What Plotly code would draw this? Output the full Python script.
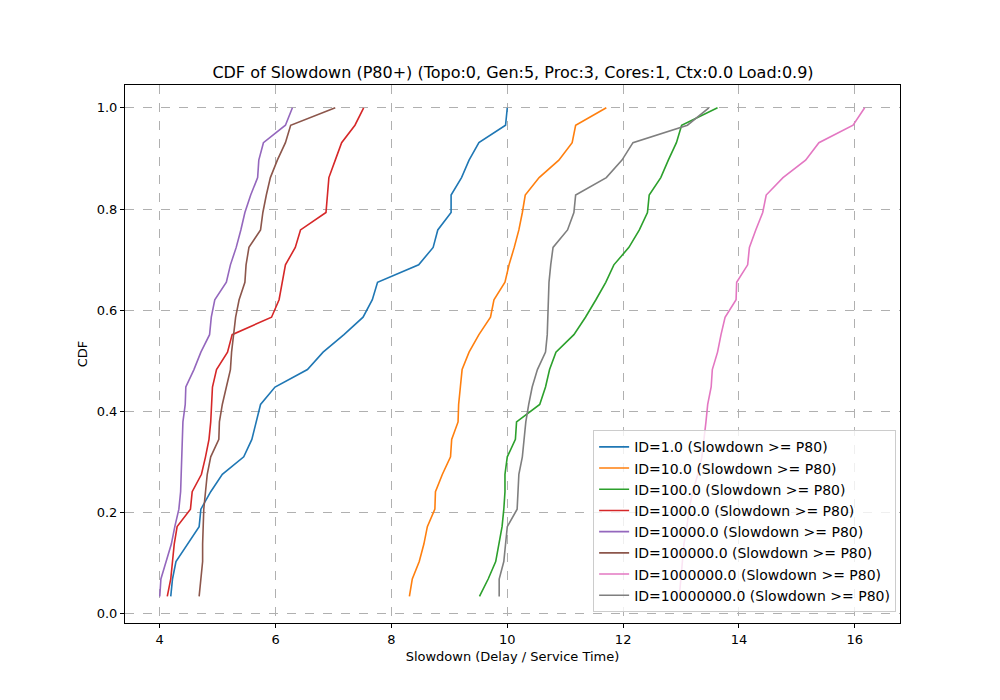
import plotly.graph_objects as go

# CDF levels: 29 samples per series
n = 29
cdf = [k / n for k in range(1, n + 1)]

ids = ['1.0', '10.0', '100.0', '1000.0', '10000.0', '100000.0', '1000000.0', '10000000.0']
colors = ['#1f77b4', '#ff7f0e', '#2ca02c', '#d62728', '#9467bd', '#8c564b', '#e377c2', '#7f7f7f']

s_1 = [4.19, 4.22, 4.28, 4.48, 4.68, 4.71, 4.88, 5.08, 5.45, 5.59, 5.66, 5.74, 5.99, 6.55, 6.82,
       7.18, 7.51, 7.67, 7.76, 8.47, 8.72, 8.80, 9.03, 9.03, 9.21, 9.34, 9.51, 9.97, 10.0]
s_10 = [8.31, 8.36, 8.48, 8.56, 8.62, 8.75, 8.76, 8.88, 9.02, 9.04, 9.15, 9.16, 9.19, 9.22, 9.34,
        9.51, 9.71, 9.77, 9.96, 10.03, 10.12, 10.20, 10.26, 10.31, 10.55, 10.89, 11.12, 11.18, 11.71]
s_100 = [9.52, 9.67, 9.80, 9.86, 9.91, 9.94, 9.96, 9.96, 10.0, 10.14, 10.16, 10.56, 10.66, 10.73, 10.84,
         11.15, 11.35, 11.53, 11.70, 11.84, 12.10, 12.28, 12.42, 12.45, 12.65, 12.78, 12.92, 13.01, 13.63]
s_1000 = [4.13, 4.19, 4.22, 4.25, 4.30, 4.53, 4.56, 4.72, 4.79, 4.85, 4.88, 4.90, 4.91, 4.98, 5.17,
          5.25, 5.93, 6.06, 6.11, 6.17, 6.34, 6.43, 6.87, 6.90, 6.92, 7.03, 7.14, 7.37, 7.52]
s_10000 = [4.0, 4.02, 4.11, 4.20, 4.26, 4.33, 4.36, 4.37, 4.38, 4.39, 4.40, 4.44, 4.45, 4.59, 4.71,
           4.86, 4.89, 4.95, 5.15, 5.22, 5.32, 5.40, 5.47, 5.57, 5.69, 5.71, 5.79, 6.17, 6.29]
s_100000 = [4.68, 4.71, 4.74, 4.74, 4.75, 4.76, 4.79, 4.82, 4.88, 5.02, 5.03, 5.08, 5.15, 5.22, 5.24,
            5.27, 5.31, 5.37, 5.47, 5.49, 5.54, 5.74, 5.78, 5.84, 5.91, 6.03, 6.17, 6.26, 7.03]
s_1000000 = [12.97, 13.00, 13.03, 13.05, 13.10, 13.14, 13.20, 13.29, 13.36, 13.40, 13.43, 13.46, 13.52, 13.54, 13.63,
             13.69, 13.76, 13.95, 13.96, 14.15, 14.18, 14.29, 14.41, 14.47, 14.76, 15.15, 15.38, 15.97, 16.17]
s_10000000 = [9.86, 9.86, 9.94, 9.97, 10.0, 10.17, 10.19, 10.20, 10.26, 10.29, 10.32, 10.37, 10.43, 10.52, 10.66,
              10.69, 10.70, 10.72, 10.72, 10.75, 10.79, 11.04, 11.15, 11.18, 11.71, 11.98, 12.17, 13.11, 13.48]

series = [s_1, s_10, s_100, s_1000, s_10000, s_100000, s_1000000, s_10000000]

fig = go.Figure()
for i, xs in enumerate(series):
    fig.add_trace(go.Scatter(x=xs, y=cdf, mode='lines', line=dict(color=colors[i], width=1.6),
                             name=f'ID={ids[i]} (Slowdown >= P80)'))

axis_style = dict(showline=True, linecolor='black', linewidth=1, mirror=True,
                  ticks='outside', ticklen=4, tickcolor='black', zeroline=False,
                  showgrid=True, gridcolor='#b0b0b0', griddash='dash', gridwidth=1,
                  tickfont=dict(size=13))

fig.update_layout(
    width=1000, height=700,
    paper_bgcolor='white', plot_bgcolor='white',
    font=dict(family='DejaVu Sans', size=13, color='black'),
    title=dict(text='CDF of Slowdown (P80+) (Topo:0, Gen:5, Proc:3, Cores:1, Ctx:0.0 Load:0.9)',
               x=0.505, xanchor='center', y=0.9, yanchor='bottom', font=dict(size=16)),
    margin=dict(l=117, r=108, t=77, b=85),
    legend=dict(x=0.995, y=0.02, xanchor='right', yanchor='bottom',
                bgcolor='rgba(255,255,255,0.8)', bordercolor='#cccccc', borderwidth=1,
                font=dict(size=14), tracegroupgap=0),
)
fig.update_xaxes(title=dict(text='Slowdown (Delay / Service Time)', standoff=6, font=dict(size=13)),
                 range=[3.40, 16.78], tickvals=[4, 6, 8, 10, 12, 14, 16], **axis_style)
fig.update_yaxes(title=dict(text='CDF', standoff=6, font=dict(size=13)), range=[-0.018, 1.045],
                 tickvals=[0, 0.2, 0.4, 0.6, 0.8, 1.0], tickformat='.1f', **axis_style)

fig.write_html("out.html")
